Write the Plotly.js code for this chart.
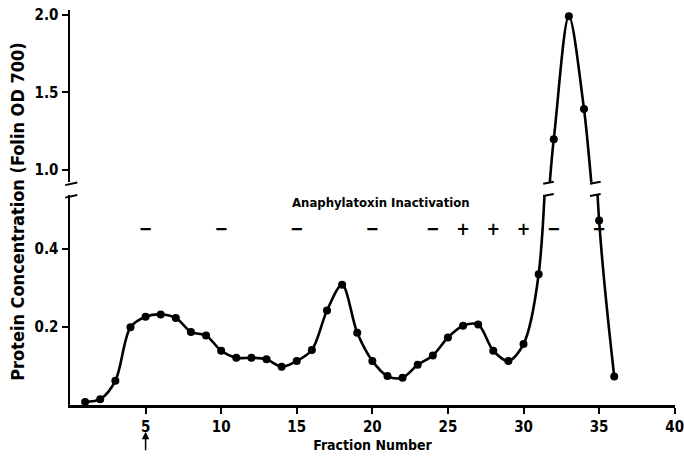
<!DOCTYPE html>
<html><head><meta charset="utf-8">
<script src="https://cdn.plot.ly/plotly-3.0.1.min.js"></script>
<style>html,body{margin:0;padding:0;background:#fff}</style>
</head><body>
<div id="chart" style="width:684px;height:459px"></div>
<script>
// Data
const fractions = [1,2,3,4,5,6,7,8,9,10,11,12,13,14,15,16,17,18,19,20,21,22,23,24,25,26,27,28,29,30,31,32,33,34,35,36];
const protein   = [0.008,0.015,0.062,0.199,0.226,0.232,0.223,0.187,0.178,0.139,0.121,0.121,0.117,0.098,0.113,0.141,0.242,0.308,0.185,0.113,0.074,0.070,0.103,0.127,0.173,0.203,0.206,0.139,0.113,0.156,0.335,1.199,1.99,1.393,0.473,0.073];
const signFractions = [5,10,15,20,24,26,28,30,32,35];
const signs = ["\u2212","\u2212","\u2212","\u2212","\u2212","+","+","+","\u2212","\u2212"];
const signLevel = 0.447;
const xTicks = [5,10,15,20,25,30,35,40];
const lowerTicks = [0.2,0.4];
const upperTicks = [1.0,1.5,2.0];

const FONT = "Liberation Sans Narrow, DejaVu Sans Condensed, Roboto Condensed, Arial Narrow, Liberation Sans, sans-serif";

const curve = {
  x: fractions, y: protein, mode: 'lines+markers',
  line: {color:'#000', width:2.6, shape:'spline', smoothing:0.9},
  marker: {color:'#000', size:8},
  cliponaxis: true, hoverinfo:'x+y', showlegend:false
};
const traces = [
  Object.assign({}, curve, {xaxis:'x', yaxis:'y'}),
  Object.assign({}, curve, {xaxis:'x', yaxis:'y2'}),
  {x: signFractions, y: signFractions.map(()=>signLevel), text: signs, mode:'text',
   textfont:{family:FONT, size:18, color:'#000', weight:'bold'}, xaxis:'x', yaxis:'y', showlegend:false, hoverinfo:'skip'}
];

const tickFont = {family:FONT, size:15, color:'#000', weight:'bold'};
const layout = {
  width:684, height:459,
  margin:{l:70, r:9, t:10, b:54},
  paper_bgcolor:'#fff', plot_bgcolor:'#fff',
  xaxis:{range:[0,40.02], tickvals:xTicks, ticks:'outside', ticklen:6, tickwidth:2, tickcolor:'#000',
         showline:true, linecolor:'#000', linewidth:2.5, showgrid:false, zeroline:false,
         tickfont:tickFont, anchor:'y', ticklabeloverflow:'allow',
         title:{text:'Fraction Number', font:{family:FONT, size:14, color:'#000', weight:'bold'}, standoff:6}},
  yaxis:{domain:[0,0.5316], range:[0,0.538], tickvals:lowerTicks, ticktext:['0.2','0.4'],
         ticks:'outside', ticklen:6, tickwidth:2, tickcolor:'#000',
         showline:true, linecolor:'#000', linewidth:2.5, showgrid:false, zeroline:false, tickfont:tickFont},
  yaxis2:{domain:[0.5633,1], range:[0.92,2.03], tickvals:upperTicks, ticktext:['1.0','1.5','2.0'],
         ticks:'outside', ticklen:6, tickwidth:2, tickcolor:'#000', anchor:'x',
         showline:true, linecolor:'#000', linewidth:2.5, showgrid:false, zeroline:false, tickfont:tickFont},
  annotations:[
    {text:'Anaphylatoxin Inactivation', xref:'x', yref:'y', x:20.6, y:0.52, showarrow:false,
     font:{family:FONT, size:13, color:'#000', weight:'bold'}},
    {text:'Protein Concentration (Folin OD 700)', xref:'paper', yref:'paper', x:-0.087, y:0.49, textangle:-90,
     showarrow:false, font:{family:FONT, size:18, color:'#000', weight:'bold'}, xanchor:'center', yanchor:'middle'},
    {text:'', xref:'x', yref:'paper', x:5, y:-0.068, ax:0, ay:20, showarrow:true,
     arrowhead:2, arrowsize:1, arrowwidth:1.5, arrowcolor:'#000'}
  ],
  shapes:[
    // axis break marks
    {type:'line', xref:'paper', yref:'paper', x0:-0.008, x1:0.012, y0:0.5566, y1:0.5633, line:{color:'#000', width:2}},
    {type:'line', xref:'paper', yref:'paper', x0:-0.008, x1:0.012, y0:0.5250, y1:0.5316, line:{color:'#000', width:2}},
    // curve break marks
    {type:'line', xref:'x', yref:'paper', x0:31.3, x1:32.0, y0:0.5600, y1:0.5650, line:{color:'#000', width:2}},
    {type:'line', xref:'x', yref:'paper', x0:31.3, x1:32.0, y0:0.5290, y1:0.5340, line:{color:'#000', width:2}},
    {type:'line', xref:'x', yref:'paper', x0:34.4, x1:35.1, y0:0.5600, y1:0.5650, line:{color:'#000', width:2}},
    {type:'line', xref:'x', yref:'paper', x0:34.4, x1:35.1, y0:0.5290, y1:0.5340, line:{color:'#000', width:2}}
  ]
};
Plotly.newPlot('chart', traces, layout, {displayModeBar:false, staticPlot:true});
</script>
</body></html>
